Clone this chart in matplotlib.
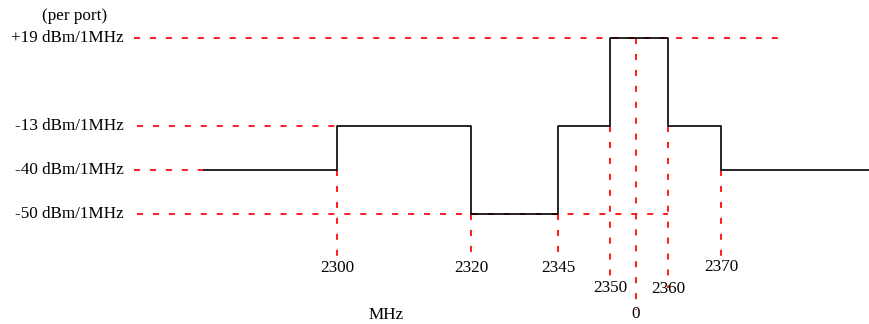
import matplotlib
matplotlib.use("Agg")
import matplotlib.pyplot as plt

# spectrum mask data (MHz breakpoints, dBm/1MHz levels)
freqs = [2300, 2320, 2345, 2350, 2360, 2370]
mask_levels = [-40, -13, -50, -13, 19, -13, -40]
level_labels = ["+19 dBm/1MHz", "-13 dBm/1MHz", "-40 dBm/1MHz", "-50 dBm/1MHz"]
level_values = [19, -13, -40, -50]

# schematic layout (drawing is not to scale)
x_pos = {2300: 337, 2320: 471, 2345: 558, 2350: 610, 2360: 668, 2370: 721}
x_center = 636
x_start, x_end = 204, 869
y_pos = {19: 38, -13: 126, -40: 170, -50: 214}

plt.rcParams['font.family'] = ['Liberation Serif', 'DejaVu Serif']

fig = plt.figure(figsize=(8.69, 3.24), dpi=100)
ax = fig.add_axes([0, 0, 1, 1])
ax.set_xlim(0, 869)
ax.set_ylim(324, 0)
ax.axis('off')

red = dict(color='#ff1a1a', lw=1.4, linestyle=(0, (3.1, 5.1)), zorder=1)

# horizontal guide lines
ax.plot([134, 782], [y_pos[19]] * 2, **red)
ax.plot([137, x_pos[2300]], [y_pos[-13]] * 2, **red)
ax.plot([134, x_start], [y_pos[-40]] * 2, **red)
ax.plot([137, x_pos[2360]], [y_pos[-50]] * 2, **red)

# vertical guide lines
ax.plot([x_pos[2300]] * 2, [y_pos[-40], 256], **red)
ax.plot([x_pos[2320]] * 2, [y_pos[-50], 262], **red)
ax.plot([x_pos[2345]] * 2, [y_pos[-50], 262], **red)
ax.plot([x_pos[2350]] * 2, [y_pos[-13], 285], **red)
ax.plot([x_center] * 2, [y_pos[19], 310], **red)
ax.plot([x_pos[2360]] * 2, [y_pos[-13], 288], **red)
ax.plot([x_pos[2370]] * 2, [y_pos[-40], 258], **red)

# mask step line
xs = [x_start] + [x_pos[f] for f in freqs] + [x_end]
ys = [y_pos[v] for v in mask_levels] + [y_pos[mask_levels[-1]]]
ax.step(xs, ys, where='post', color='black', lw=1.2, zorder=2)

fs = 12.3
# level labels
for lab, v in zip(level_labels, level_values):
    ax.text(124, y_pos[v], lab, ha='right', va='center', fontsize=fs)
ax.text(75, 16, "(per port)", ha='center', va='center', fontsize=fs)

# frequency labels
label_y = {2300: 268, 2320: 268, 2345: 268, 2350: 288, 2360: 289, 2370: 267}
for f in freqs:
    ax.text(x_pos[f], label_y[f], str(f), ha='center', va='center', fontsize=fs)
ax.text(x_center, 314, "0", ha='center', va='center', fontsize=fs)
ax.text(386, 315, "MHz", ha='center', va='center', fontsize=fs)

fig.savefig("out.png", dpi=100)
